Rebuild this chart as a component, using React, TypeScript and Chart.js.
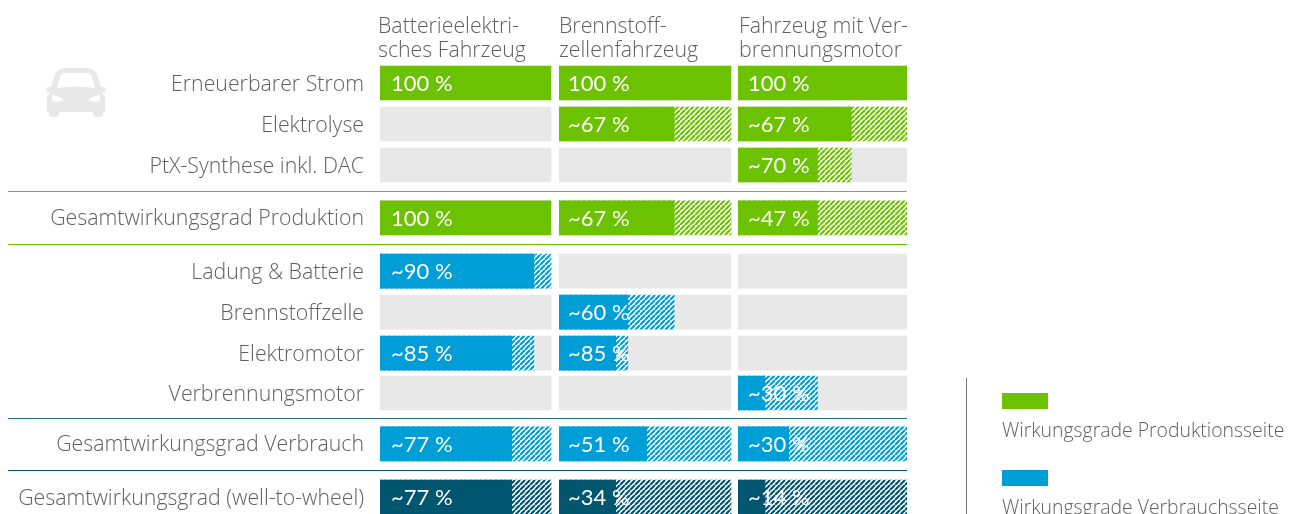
import React, { useEffect, useRef } from "react";
import { Chart, registerables } from "chart.js";

Chart.register(...registerables);

const rowLabels = [
  "Erneuerbarer Strom",
  "Elektrolyse",
  "PtX-Synthese inkl. DAC",
  "Gesamtwirkungsgrad Produktion",
  "Ladung & Batterie",
  "Brennstoffzelle",
  "Elektromotor",
  "Verbrennungsmotor",
  "Gesamtwirkungsgrad Verbrauch",
  "Gesamtwirkungsgrad (well-to-wheel)",
];
const panelHeaders = [
  ["Batterieelektri-", "sches Fahrzeug"],
  ["Brennstoff-", "zellenfahrzeug"],
  ["Fahrzeug mit Ver-", "brennungsmotor"],
];
const legendLabels = ["Wirkungsgrade Produktionsseite", "Wirkungsgrade Verbrauchsseite"];

const trackValues = [100, 100, 100, 100, 100, 100, 100, 100, 100, 100];

const bevSolid = [100, null, null, 100, 90, null, 77, null, 77, 77];
const bevLoss = [null, null, null, null, 100, null, 90, null, 100, 100];
const bevText = ["100 %", "", "", "100 %", "~90 %", "", "~85 %", "", "~77 %", "~77 %"];

const fcevSolid = [100, 67, null, 67, null, 40, 33, null, 51, 33];
const fcevLoss = [null, 100, null, 100, null, 67, 40, null, 100, 100];
const fcevText = ["100 %", "~67 %", "", "~67 %", "", "~60 %", "~85 %", "", "~51 %", "~34 %"];

const iceSolid = [100, 67, 47, 47, null, null, null, 16, 30, 16];
const iceLoss = [null, 100, 67, 100, null, null, null, 47, 100, 100];
const iceText = ["100 %", "~67 %", "~70 %", "~47 %", "", "", "", "~30 %", "~30 %", "~14 %"];

// layout (in row units / px), not data
const rowStops = [0, 1, 2, 3.29, 4.59, 5.59, 6.59, 7.56, 8.8, 10.1];
const rowKind = [0, 0, 0, 0, 1, 1, 1, 1, 1, 2];
const kindColor = ["#6cc200", "#009ed6", "#00556f"];
const FONT = "'Open Sans', Lato, sans-serif";
const GREY = "#e8e8e8";
const TEXT = "#5f5f5f";

function hatch(color: string) {
  const s = 5;
  const c = document.createElement("canvas");
  c.width = s;
  c.height = s;
  const g = c.getContext("2d")!;
  g.fillStyle = "#fff";
  g.fillRect(0, 0, s, s);
  g.strokeStyle = color;
  g.lineWidth = 2.2;
  g.beginPath();
  for (let i = -s; i <= 2 * s; i += s) {
    g.moveTo(i, s);
    g.lineTo(i + s, 0);
  }
  g.stroke();
  return g.createPattern(c, "repeat")!;
}

export default function App() {
  const ref = useRef<HTMLCanvasElement>(null);
  useEffect(() => {
    document.body.style.margin = "0";
    const patterns = kindColor.map(hatch);
    const points = (vals: (number | null)[]) =>
      vals.map((v, i) => ({ x: v, y: rowStops[i] }));
    const panel = (id: string, solid: (number | null)[], loss: (number | null)[]) => [
      {
        xAxisID: id,
        label: id + " solid",
        data: points(solid),
        backgroundColor: rowKind.map((k) => kindColor[k]),
      },
      {
        xAxisID: id,
        label: id + " loss",
        data: points(loss),
        backgroundColor: rowKind.map((k) => patterns[k]),
      },
      {
        xAxisID: id,
        label: id + " track",
        data: points(trackValues),
        backgroundColor: GREY,
      },
    ];
    const hiddenX = (stackWeight: number, max: number) => ({
      type: "linear",
      position: "bottom",
      stack: "panels",
      stackWeight,
      min: 0,
      max,
      display: false,
    });
    const texts = [bevText, fcevText, iceText];
    const labelInset = [11, 9, 10];
    const decorations = {
      id: "decorations",
      beforeDatasetsDraw(chart: any) {
        const { ctx } = chart;
        const y = chart.scales.y;
        ctx.save();
        // rules between row groups
        const rules: [number, number, string][] = [
          [2, 3.29, "#6cc200"],
          [3.29, 4.59, "#6cc200"],
          [7.56, 8.8, "#1f7089"],
          [8.8, 10.1, "#00556f"],
        ];
        for (const [a, b, color] of rules) {
          const py = Math.floor((y.getPixelForValue(a) + y.getPixelForValue(b)) / 2) + 0.5;
          ctx.strokeStyle = color;
          ctx.lineWidth = 1.2;
          ctx.beginPath();
          ctx.moveTo(8, py);
          ctx.lineTo(907, py);
          ctx.stroke();
        }
        // column headers
        ctx.fillStyle = TEXT;
        ctx.font = `300 21.3px ${FONT}`;
        ctx.textAlign = "left";
        ctx.textBaseline = "alphabetic";
        const headerX = [378, 559, 739];
        panelHeaders.forEach((lines, p) =>
          lines.forEach((line, i) => ctx.fillText(line, headerX[p], 33 + i * 24))
        );
        // car icon
        ctx.fillStyle = GREY;
        ctx.beginPath();
        ctx.moveTo(55, 74);
        ctx.quadraticCurveTo(58, 68, 66, 68);
        ctx.lineTo(86, 68);
        ctx.quadraticCurveTo(94, 68, 97, 74);
        ctx.lineTo(101, 87);
        ctx.lineTo(104, 87);
        ctx.quadraticCurveTo(108, 90, 104, 92);
        ctx.lineTo(102, 93);
        ctx.lineTo(105, 97);
        ctx.lineTo(105, 112);
        ctx.lineTo(103, 112);
        ctx.quadraticCurveTo(103, 117, 99, 117);
        ctx.lineTo(96, 117);
        ctx.quadraticCurveTo(93, 117, 93, 112);
        ctx.lineTo(59, 112);
        ctx.quadraticCurveTo(59, 117, 56, 117);
        ctx.lineTo(52, 117);
        ctx.quadraticCurveTo(49, 117, 49, 112);
        ctx.lineTo(47, 112);
        ctx.lineTo(47, 97);
        ctx.lineTo(50, 93);
        ctx.lineTo(48, 92);
        ctx.quadraticCurveTo(44, 90, 48, 87);
        ctx.lineTo(51, 87);
        ctx.closePath();
        ctx.fill();
        ctx.fillStyle = "#fff";
        ctx.beginPath();
        ctx.moveTo(60, 77);
        ctx.quadraticCurveTo(61, 73, 66, 73);
        ctx.lineTo(86, 73);
        ctx.quadraticCurveTo(91, 73, 92, 77);
        ctx.lineTo(95, 88);
        ctx.quadraticCurveTo(76, 85, 57, 88);
        ctx.closePath();
        ctx.fill();
        ctx.beginPath();
        ctx.moveTo(52, 95);
        ctx.quadraticCurveTo(60, 96, 64, 100);
        ctx.quadraticCurveTo(58, 103, 52, 101);
        ctx.closePath();
        ctx.moveTo(100, 95);
        ctx.quadraticCurveTo(92, 96, 88, 100);
        ctx.quadraticCurveTo(94, 103, 100, 101);
        ctx.closePath();
        ctx.fill();
        // legend
        ctx.strokeStyle = "#777777";
        ctx.lineWidth = 1;
        ctx.beginPath();
        ctx.moveTo(966.5, 378);
        ctx.lineTo(966.5, 514);
        ctx.stroke();
        ctx.font = `300 19.4px ${FONT}`;
        legendLabels.forEach((label, i) => {
          ctx.fillStyle = kindColor[i];
          ctx.fillRect(1002, 393 + i * 77, 46, 16);
          ctx.fillStyle = TEXT;
          ctx.fillText(label, 1002, 437 + i * 77);
        });
        ctx.restore();
      },
      afterDatasetsDraw(chart: any) {
        const { ctx } = chart;
        ctx.save();
        ctx.fillStyle = "#fff";
        ctx.font = `400 22px Lato, ${FONT}`;
        ctx.textAlign = "left";
        ctx.textBaseline = "middle";
        texts.forEach((list, p) => {
          const bars = chart.getDatasetMeta(p * 3).data;
          list.forEach((t, i) => {
            if (t && bars[i]) ctx.fillText(t, bars[i].base + labelInset[p], bars[i].y + 1);
          });
        });
        ctx.restore();
      },
    };
    const chart = new Chart(ref.current!, {
      type: "bar",
      data: {
        datasets: [
          ...panel("xBev", bevSolid, bevLoss),
          ...panel("xFcev", fcevSolid, fcevLoss),
          ...panel("xIce", iceSolid, iceLoss),
        ],
      },
      options: {
        indexAxis: "y",
        animation: false,
        responsive: false,
        layout: { padding: { left: 0, right: 388, top: 0, bottom: 0 } },
        plugins: { legend: { display: false }, tooltip: { enabled: false } },
        datasets: { bar: { grouped: false, barThickness: 34, borderWidth: 0 } },
        scales: {
          xBev: hiddenX(179, 104.7),
          xFcev: hiddenX(179, 104.1),
          xIce: hiddenX(169, 100),
          y: {
            type: "linear",
            reverse: true,
            bounds: "data",
            offset: false,
            min: -83 / 41,
            max: (514 - 83) / 41,
            grid: { display: false, drawTicks: false },
            border: { display: false },
            afterFit(s: any) {
              s.width = 380;
              s.paddingTop = 0;
              s.paddingBottom = 0;
            },
            afterBuildTicks(s: any) {
              s.ticks = rowStops.map((value) => ({ value }));
            },
            ticks: {
              autoSkip: false,
              padding: 16,
              labelOffset: 1.5,
              color: TEXT,
              font: { family: FONT, size: 21.3, weight: 300 },
              callback: (v: number) => rowLabels[rowStops.indexOf(v)] ?? "",
            },
          },
        },
      } as any,
      plugins: [decorations],
    } as any);
    return () => chart.destroy();
  }, []);
  return <canvas ref={ref} width={1295} height={514} style={{ display: "block" }} />;
}
